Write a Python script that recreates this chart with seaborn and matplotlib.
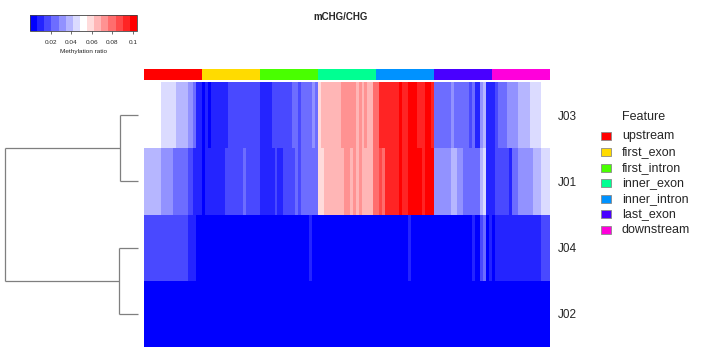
import numpy as np
import pandas as pd
import matplotlib
matplotlib.use("Agg")
import matplotlib.pyplot as plt
from matplotlib.colors import ListedColormap
from matplotlib.patches import Rectangle
import seaborn as sns

# ---------------- data ----------------
samples = ["J03", "J01", "J04", "J02"]
features = ["upstream", "first_exon", "first_intron", "inner_exon",
            "inner_intron", "last_exon", "downstream"]
feature_colors = ["#FF0000", "#FFDB00", "#49FF00", "#00FF92",
                  "#0092FF", "#4900FF", "#FF00DB"]
bins_per_feature = 20

J03 = [0.052, 0.052, 0.052, 0.052, 0.052, 0.052, 0.045, 0.045, 0.045, 0.045,
       0.045, 0.038, 0.038, 0.038, 0.038, 0.031, 0.031, 0.024, 0.010, 0.010,
       0.003, 0.010, 0.003, 0.010, 0.010, 0.010, 0.010, 0.010, 0.010, 0.017,
       0.017, 0.017, 0.017, 0.017, 0.017, 0.017, 0.017, 0.017, 0.017, 0.017,
       0.010, 0.010, 0.010, 0.010, 0.017, 0.017, 0.017, 0.017, 0.017, 0.017,
       0.017, 0.024, 0.024, 0.017, 0.024, 0.024, 0.024, 0.024, 0.031, 0.024,
       0.059, 0.066, 0.066, 0.066, 0.066, 0.066, 0.066, 0.066, 0.073, 0.073,
       0.073, 0.073, 0.073, 0.066, 0.073, 0.066, 0.073, 0.066, 0.066, 0.080,
       0.080, 0.094, 0.094, 0.094, 0.094, 0.094, 0.094, 0.094, 0.101, 0.094,
       0.094, 0.101, 0.101, 0.101, 0.094, 0.094, 0.094, 0.101, 0.101, 0.094,
       0.024, 0.024, 0.024, 0.024, 0.024, 0.024, 0.031, 0.024, 0.024, 0.024,
       0.024, 0.024, 0.017, 0.024, 0.010, 0.010, 0.031, 0.038, 0.010, 0.010,
       0.010, 0.017, 0.024, 0.024, 0.024, 0.031, 0.031, 0.031, 0.031, 0.038,
       0.038, 0.038, 0.038, 0.045, 0.045, 0.045, 0.045, 0.052, 0.052, 0.052]

J01 = [0.038, 0.038, 0.038, 0.038, 0.038, 0.038, 0.031, 0.031, 0.031, 0.031,
       0.024, 0.024, 0.024, 0.024, 0.024, 0.017, 0.017, 0.010, 0.010, 0.010,
       0.003, 0.010, 0.010, 0.010, 0.010, 0.010, 0.010, 0.010, 0.017, 0.017,
       0.017, 0.017, 0.017, 0.017, 0.024, 0.017, 0.017, 0.017, 0.017, 0.017,
       0.010, 0.010, 0.010, 0.010, 0.010, 0.017, 0.010, 0.010, 0.017, 0.017,
       0.017, 0.017, 0.024, 0.017, 0.024, 0.024, 0.024, 0.024, 0.024, 0.024,
       0.059, 0.059, 0.066, 0.066, 0.066, 0.066, 0.066, 0.066, 0.066, 0.073,
       0.073, 0.066, 0.073, 0.066, 0.073, 0.066, 0.066, 0.066, 0.066, 0.080,
       0.080, 0.087, 0.080, 0.094, 0.094, 0.094, 0.094, 0.094, 0.101, 0.094,
       0.094, 0.101, 0.101, 0.101, 0.101, 0.101, 0.094, 0.101, 0.101, 0.101,
       0.031, 0.031, 0.031, 0.031, 0.031, 0.031, 0.038, 0.038, 0.031, 0.031,
       0.024, 0.024, 0.024, 0.024, 0.024, 0.024, 0.038, 0.045, 0.010, 0.010,
       0.010, 0.017, 0.017, 0.017, 0.017, 0.017, 0.010, 0.024, 0.024, 0.031,
       0.031, 0.031, 0.031, 0.031, 0.038, 0.038, 0.038, 0.045, 0.045, 0.045]

J04 = [0.017, 0.017, 0.017, 0.017, 0.017, 0.017, 0.017, 0.017, 0.017, 0.017,
       0.017, 0.017, 0.017, 0.017, 0.017, 0.010, 0.010, 0.010, 0.003, 0.003,
       0.003, 0.003, 0.003, 0.003, 0.003, 0.003, 0.003, 0.003, 0.003, 0.003,
       0.003, 0.003, 0.003, 0.003, 0.003, 0.003, 0.003, 0.003, 0.003, 0.003,
       0.003, 0.003, 0.003, 0.003, 0.003, 0.003, 0.003, 0.003, 0.003, 0.003,
       0.003, 0.003, 0.003, 0.003, 0.003, 0.003, 0.003, 0.010, 0.003, 0.003,
       0.003, 0.003, 0.003, 0.003, 0.003, 0.003, 0.003, 0.003, 0.003, 0.003,
       0.003, 0.003, 0.003, 0.003, 0.003, 0.003, 0.003, 0.003, 0.003, 0.003,
       0.003, 0.003, 0.003, 0.003, 0.003, 0.003, 0.003, 0.003, 0.003, 0.003,
       0.003, 0.010, 0.003, 0.003, 0.003, 0.003, 0.003, 0.003, 0.003, 0.003,
       0.003, 0.003, 0.003, 0.003, 0.003, 0.003, 0.003, 0.003, 0.003, 0.003,
       0.003, 0.003, 0.003, 0.010, 0.003, 0.003, 0.017, 0.024, 0.003, 0.010,
       0.003, 0.010, 0.010, 0.010, 0.010, 0.010, 0.010, 0.010, 0.010, 0.010,
       0.010, 0.010, 0.010, 0.010, 0.010, 0.010, 0.010, 0.017, 0.017, 0.017]

J02 = [0.003, 0.003, 0.003, 0.003, 0.003, 0.003, 0.003, 0.003, 0.003, 0.003,
       0.003, 0.003, 0.003, 0.003, 0.003, 0.003, 0.003, 0.003, 0.003, 0.003,
       0.003, 0.003, 0.003, 0.003, 0.003, 0.003, 0.003, 0.003, 0.003, 0.003,
       0.003, 0.003, 0.003, 0.003, 0.003, 0.003, 0.003, 0.003, 0.003, 0.003,
       0.003, 0.003, 0.003, 0.003, 0.003, 0.003, 0.003, 0.003, 0.003, 0.003,
       0.003, 0.003, 0.003, 0.003, 0.003, 0.003, 0.003, 0.003, 0.003, 0.003,
       0.003, 0.003, 0.003, 0.003, 0.003, 0.003, 0.003, 0.003, 0.003, 0.003,
       0.003, 0.003, 0.003, 0.003, 0.003, 0.003, 0.003, 0.003, 0.003, 0.003,
       0.003, 0.003, 0.003, 0.003, 0.003, 0.003, 0.003, 0.003, 0.003, 0.003,
       0.003, 0.003, 0.003, 0.003, 0.003, 0.003, 0.003, 0.003, 0.003, 0.003,
       0.003, 0.003, 0.003, 0.003, 0.003, 0.003, 0.003, 0.003, 0.003, 0.003,
       0.003, 0.003, 0.003, 0.003, 0.003, 0.003, 0.003, 0.003, 0.003, 0.003,
       0.003, 0.003, 0.003, 0.003, 0.003, 0.003, 0.003, 0.003, 0.003, 0.003,
       0.003, 0.003, 0.003, 0.003, 0.003, 0.003, 0.003, 0.003, 0.003, 0.003]

# dendrogram merge heights: (J03,J01), (J04,J02), root
merge_heights = [0.135, 0.140, 1.0]

color_ticks = [0.02, 0.04, 0.06, 0.08, 0.1]
color_tick_labels = ["0.02", "0.04", "0.06", "0.08", "0.1"]
vmin, vmax = 0.0, 0.104

# ---------------- style ----------------
sns.set_style("white")
plt.rcParams["font.family"] = ["Liberation Sans", "DejaVu Sans"]

W, H = 720, 360
fig = plt.figure(figsize=(7.2, 3.6), dpi=100)


def fbox(x0, y0, x1, y1):
    """pixel box (top-left origin) -> figure fraction rect"""
    return [x0 / W, 1 - y1 / H, (x1 - x0) / W, (y1 - y0) / H]


ax_hm = fig.add_axes(fbox(144, 82, 550, 347))
ax_ann = fig.add_axes(fbox(144, 69, 550, 80))
ax_den = fig.add_axes(fbox(5, 82, 138, 347))
cax = fig.add_axes(fbox(30, 15, 137, 31))

# palette: blue-white-red ramp, 15 steps
n_col = 15
ramp = []
for i in range(n_col):
    t = i / (n_col - 1)
    if t <= 0.5:
        s = t / 0.5
        ramp.append((s, s, 1.0))
    else:
        s = (t - 0.5) / 0.5
        ramp.append((1.0, 1 - s, 1 - s))
cmap = ListedColormap(ramp)

df = pd.DataFrame([J03, J01, J04, J02], index=samples)
sns.heatmap(df, ax=ax_hm, cmap=cmap, vmin=vmin, vmax=vmax,
            xticklabels=False, yticklabels=samples, cbar=True, cbar_ax=cax,
            cbar_kws={"orientation": "horizontal", "ticks": color_ticks})
ax_hm.yaxis.tick_right()
ax_hm.tick_params(axis="y", length=0, pad=6, labelsize=8.5, labelrotation=0)
ax_hm.tick_params(axis="x", length=0)

cbar = ax_hm.collections[0].colorbar
cbar.set_ticks(color_ticks)
cbar.set_ticklabels(color_tick_labels)
cbar.ax.tick_params(labelsize=4.6, length=2.4, width=0.5, pad=4,
                    color="#333333", direction="out")
cbar.outline.set_linewidth(0.6)
cbar.outline.set_edgecolor("#444444")
cbar.set_label("Methylation ratio", fontsize=4.6, labelpad=3)

# annotation bar
ann = np.repeat(np.arange(len(features)), bins_per_feature)[None, :]
sns.heatmap(ann, ax=ax_ann, cmap=ListedColormap(feature_colors),
            vmin=-0.5, vmax=len(features) - 0.5, cbar=False,
            xticklabels=False, yticklabels=False)

# dendrogram
h1, h2, h3 = merge_heights
ypos = {s: i + 0.5 for i, s in enumerate(samples)}
lc = "#7f7f7f"
lw = 0.9
def seg(xs, ys):
    ax_den.plot(xs, ys, color=lc, lw=lw, clip_on=False, solid_capstyle="butt")

a, b = ypos["J03"], ypos["J01"]
seg([0, h1], [a, a]); seg([0, h1], [b, b]); seg([h1, h1], [a, b])
c, d = ypos["J04"], ypos["J02"]
seg([0, h2], [c, c]); seg([0, h2], [d, d]); seg([h2, h2], [c, d])
m1, m2 = (a + b) / 2, (c + d) / 2
seg([h1, h3], [m1, m1]); seg([h2, h3], [m2, m2]); seg([h3, h3], [m1, m2])
ax_den.set_xlim(h3, 0)
ax_den.set_ylim(len(samples), 0)
ax_den.axis("off")

# title
fig.text(341 / W, 1 - 17.5 / H, "mCHG/CHG", ha="center", va="center",
         fontsize=7, fontweight="bold")

# legend
fig.text(622 / W, 1 - 120.5 / H, "Feature", ha="left", va="baseline", fontsize=9)
leg_y = [136, 152, 167.5, 183, 198.5, 214, 229.5]
for name, col, yy in zip(features, feature_colors, leg_y):
    fig.add_artist(Rectangle((601 / W, 1 - (yy + 4) / H), 10 / W, 8 / H,
                             transform=fig.transFigure, facecolor=col,
                             edgecolor="#8a8a8a", lw=0.6))
    fig.text(622 / W, 1 - (yy + 3.4) / H, name, ha="left", va="baseline",
             fontsize=9)

fig.savefig("out.png", dpi=100)
